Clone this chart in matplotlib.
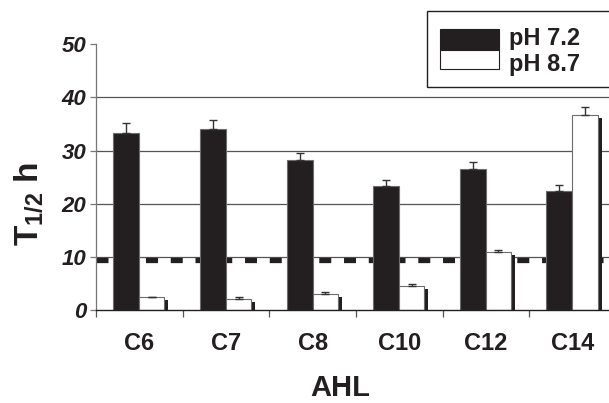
import numpy as np
import matplotlib
matplotlib.use("Agg")
import matplotlib.pyplot as plt
from matplotlib.patches import Rectangle
from matplotlib.transforms import offset_copy

# --- data ---
categories = ["C6", "C7", "C8", "C10", "C12", "C14"]
ph72 = [33.4, 34.0, 28.2, 23.3, 26.6, 22.4]
ph72_err = [1.7, 1.8, 1.4, 1.2, 1.2, 1.2]
ph87 = [2.4, 2.1, 3.0, 4.6, 11.0, 36.7]
ph87_err = [0.1, 0.3, 0.3, 0.25, 0.35, 1.5]
threshold = 9.5
legend_labels = ["pH 7.2", "pH 8.7"]

plt.rcParams['font.family'] = ['Liberation Sans', 'DejaVu Sans']
plt.rcParams['mathtext.fontset'] = 'custom'
plt.rcParams['mathtext.rm'] = 'Liberation Sans:bold'
plt.rcParams['mathtext.bf'] = 'Liberation Sans:bold'
plt.rcParams['mathtext.it'] = 'Liberation Sans:italic:bold'

W, H = 609, 403
DARK = '#231f20'
fig = plt.figure(figsize=(W / 100, H / 100), dpi=100)

def fx(x):
    return x / W

def fy(y):
    return 1 - y / H

# axes box in pixels (left, top of 50, right, zero line)
ax = fig.add_axes([fx(96), fy(310), (615.8 - 96) / W, (310 - 44.3) / H])

x = np.arange(len(categories))
bw_black = 0.30
bw_white = 0.29

# gridlines + threshold line behind bars
for g in [10, 20, 30, 40]:
    ax.axhline(g, color='#555555', lw=0.9, zorder=0)
ax.axhline(threshold, color=DARK, lw=3.8, linestyle=(0, (2.27, 2.42)),
           dash_capstyle='butt', zorder=1)

# drop shadow of the white bars: same bars shifted a few pixels right/down
shadow = offset_copy(ax.transData, fig=fig, x=4, y=-3, units='dots')
ax.bar(x, ph87, width=bw_white, align='edge', color=DARK, lw=0,
       transform=shadow, zorder=2)

ax.bar(x - bw_black, ph72, width=bw_black, align='edge', color=DARK,
       edgecolor='#6d6d6d', lw=0.8, zorder=3)
ax.bar(x, ph87, width=bw_white, align='edge', color='white',
       edgecolor='#6d6d6d', lw=0.8, zorder=3)

ax.errorbar(x - bw_black / 2, ph72, yerr=[np.zeros(6), ph72_err], fmt='none',
            ecolor='#333333', elinewidth=1, capsize=2.8, capthick=1, zorder=4)
ax.errorbar(x + bw_white / 2, ph87, yerr=[np.zeros(6), ph87_err], fmt='none',
            ecolor='#333333', elinewidth=1, capsize=2.8, capthick=1, zorder=4)

ax.set_xlim(-0.5, len(categories) - 0.5)
ax.set_ylim(0, 50)

for s in ['top', 'right']:
    ax.spines[s].set_visible(False)
ax.spines['left'].set_color('#777777')
ax.spines['left'].set_linewidth(0.9)
ax.spines['bottom'].set_color(DARK)
ax.spines['bottom'].set_linewidth(1.0)
ax.spines['bottom'].set_zorder(5)

ax.set_yticks([0, 10, 20, 30, 40, 50])
ax.tick_params(axis='y', direction='out', length=4, width=0.9, color='#777777',
               pad=3, labelsize=16, labelcolor=DARK)
for lab in ax.get_yticklabels():
    lab.set_fontweight('bold')
    lab.set_fontstyle('italic')

ax.set_xticks(x)
ax.set_xticklabels(categories, fontsize=17, fontweight='bold', color=DARK)
ax.tick_params(axis='x', which='major', length=0, pad=16)
ax.set_xticks(np.arange(-0.5, len(categories) - 0.4, 1), minor=True)
ax.tick_params(axis='x', which='minor', direction='out', length=5, width=0.9,
               color='#555555')

fig.text(fx(340), fy(396), "AHL", fontsize=21, fontweight='bold', color=DARK,
         ha='center', va='baseline')
fig.text(fx(29), fy(204), r"T$_{1/2}$ h", fontsize=24, fontweight='bold',
         color=DARK, rotation=90, ha='center', va='center')

# legend drawn by hand, its right side runs off the picture like the reference
fig.add_artist(Rectangle((fx(427.3), fy(87.3)), fx(620 - 427.3), (87.3 - 11) / H,
                         transform=fig.transFigure, facecolor='white',
                         edgecolor=DARK, lw=1.0))
fig.add_artist(Rectangle((fx(440), fy(50)), fx(59), (50 - 29.3) / H,
                         transform=fig.transFigure, facecolor=DARK,
                         edgecolor=DARK, lw=0.8))
fig.add_artist(Rectangle((fx(440), fy(69.3)), fx(59), (69.3 - 50) / H,
                         transform=fig.transFigure, facecolor='white',
                         edgecolor=DARK, lw=0.8))
fig.text(fx(509), fy(45), legend_labels[0], fontsize=17, fontweight='bold',
         color=DARK, va='baseline')
fig.text(fx(509), fy(71.5), legend_labels[1], fontsize=17, fontweight='bold',
         color=DARK, va='baseline')

fig.savefig("out.png", dpi=100)
